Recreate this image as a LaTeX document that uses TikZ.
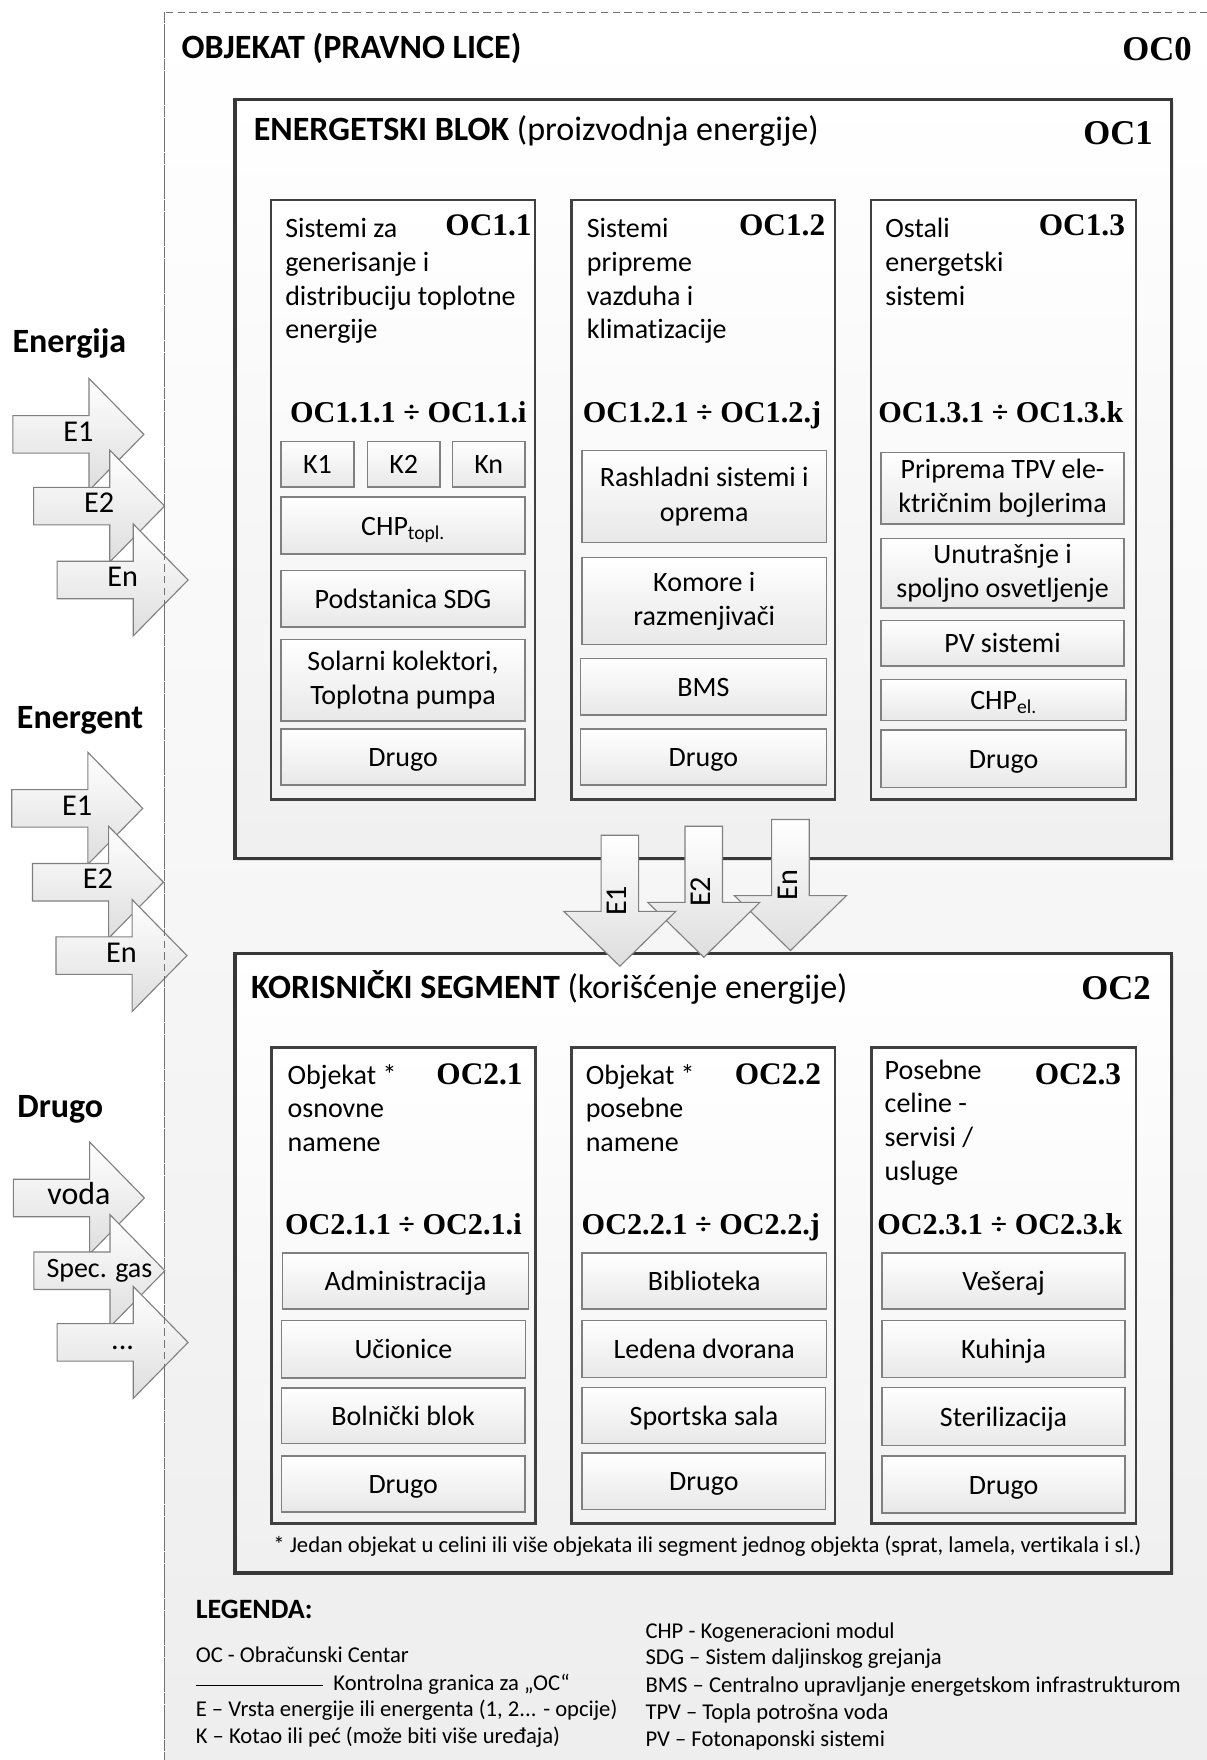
\documentclass[tikz,border=0pt]{standalone}
\usepackage{fontspec}
\setmainfont{Carlito}[Ligatures={NoCommon}]
\newfontfamily\camb{Liberation Serif}
\usetikzlibrary{fit,shadows}
\newcommand\myrarrow[2]{\draw[arr] ({#1-117},{#2-16.75}) -- ({#1-49},{#2-16.75}) -- ({#1-49},{#2-50}) -- (#1,#2) -- ({#1-49},{#2+50}) -- ({#1-49},{#2+16.75}) -- ({#1-117},{#2+16.75}) -- cycle;}
\newcommand\mydarrow[2]{\draw[arr] ({#1-16.75},{#2-117}) -- ({#1+16.75},{#2-117}) -- ({#1+16.75},{#2-49}) -- ({#1+50},{#2-49}) -- (#1,#2) -- ({#1-50},{#2-49}) -- ({#1-16.75},{#2-49}) -- cycle;}
\newcommand\mybox[7]{\node[item,#6, minimum width={#4-#2}, minimum height={#5-#3}] (#1) at ({(#2+#4)/2},{(#3+#5)/2}) {#7};}
\begin{document}
\begin{tikzpicture}[x=1pt,y=-1pt,
  oczero/.style={draw=black!55, dash pattern=on 6.5pt off 4pt, line width=0.9pt, top color=white, bottom color=black!7, inner sep=0pt},
  bigbox/.style={draw=black!78, line width=3pt, top color=white, bottom color=black!6, inner sep=0pt, drop shadow={shadow xshift=2pt, shadow yshift=-2pt, opacity=0.2}},
  colbox/.style={draw=black!75, line width=2.2pt, top color=white, bottom color=black!5, inner sep=0pt},
  item/.style={draw=black!50, line width=1.3pt, top color=white, bottom color=black!9, inner sep=0pt, align=center, font=\fontsize{25}{30.5}\selectfont},
  one/.style={text height=20pt, text depth=3pt},
  two/.style={yshift=-1pt},
  arr/.style={draw=black!50, line width=1pt, top color=white, bottom color=black!13},
  albl/.style={font=\fontsize{27}{32}\selectfont, text height=17pt, text depth=5pt, inner sep=0pt},
  hdr/.style={font=\bfseries\fontsize{30.4}{36}\selectfont, inner sep=0pt},
  ocbig/.style={font=\camb\bfseries\fontsize{31}{36}\selectfont, inner sep=0pt},
  ocmid/.style={font=\camb\bfseries\fontsize{28}{32}\selectfont, inner sep=0pt},
  ocrng/.style={font=\camb\bfseries\fontsize{27}{32}\selectfont, inner sep=0pt},
  desc/.style={font=\fontsize{25}{30}\selectfont, inner sep=0pt},
  leg/.style={font=\fontsize{20.2}{24}\selectfont, inner sep=0pt, anchor=base west}
]
\useasboundingbox (0,0) rectangle (1077.2,1572);

% OC0 region
\node[oczero, fit={(147.3,11) (1100,1620)}] (oc0) {};
\node[hdr, anchor=base west] (t0) at (162,52.5) {OBJEKAT (PRAVNO LICE)};
\node[ocbig, anchor=base east] (l0) at (1064.7,54) {OC0};

% OC1
\node[bigbox, fit={(209.8,88.7) (1046.5,767)}] (oc1) {};
\node[hdr, anchor=base west] (t1) at (226.5,125.5) {ENERGETSKI BLOK {\mdseries (proizvodnja energije)}};
\node[ocbig, anchor=base east] (l1) at (1029.8,129.5) {OC1};

\node[colbox, fit={(242,178.5) (478,714)}] (c11) {};
\node[colbox, fit={(510.5,178.5) (746,714)}] (c12) {};
\node[colbox, fit={(778,178.5) (1014.5,714)}] (c13) {};

\node[desc, anchor=base west] (d11) at (254.6,212.5) {\vtop{\hbox{Sistemi za}\hbox{generisanje i}\hbox{distribuciju toplotne}\hbox{energije}}};
\node[desc, anchor=base west] (d12) at (524,212.5) {\vtop{\hbox{Sistemi}\hbox{pripreme}\hbox{vazduha i}\hbox{klimatizacije}}};
\node[desc, anchor=base west] (d13) at (790.6,212.5) {\vtop{\hbox{Ostali}\hbox{energetski}\hbox{sistemi}}};

\node[ocmid, anchor=base east] (l11) at (475,210.5) {OC1.1};
\node[ocmid, anchor=base east] (l12) at (737.3,210.5) {OC1.2};
\node[ocmid, anchor=base east] (l13) at (1005,210.5) {OC1.3};

\node[ocrng, anchor=base] (r11) at (364.7,377) {OC1.1.1 ÷ OC1.1.i};
\node[ocrng, anchor=base] (r12) at (627,377) {OC1.2.1 ÷ OC1.2.j};
\node[ocrng, anchor=base] (r13) at (894,377) {OC1.3.1 ÷ OC1.3.k};

\mybox{k1}{251}{394.5}{316}{435}{one}{K1}
\mybox{k2}{328}{394.5}{393}{435}{one}{K2}
\mybox{kn}{404}{394.5}{469}{435}{one}{Kn}
\mybox{chpa}{251}{444}{469}{495}{one}{CHP\textsubscript{topl.}}
\mybox{sdg}{251}{509.5}{469}{560}{one}{Podstanica SDG}
\mybox{sol}{251}{570}{469}{643}{two}{Solarni kolektori,\\Toplotna pumpa}
\mybox{dra}{251}{651}{469}{701}{one}{Drugo}

\mybox{ras}{520}{401.5}{738}{483.5}{two}{Rashladni sistemi i\\oprema}
\mybox{kom}{520}{497}{738}{574.5}{two}{Komore i\\razmenjivači}
\mybox{bms}{518.6}{588}{738}{638.5}{one}{BMS}
\mybox{drb}{518.6}{651}{738}{701}{one}{Drugo}

\mybox{tpv}{787}{403}{1004}{467}{two}{Priprema TPV ele-\\ktričnim bojlerima}
\mybox{osv}{787}{480}{1004}{542}{two}{Unutrašnje i\\spoljno osvetljenje}
\mybox{pv}{787}{554}{1004}{595}{one}{PV sistemi}
\mybox{chpb}{787}{607}{1005.7}{643.5}{one}{CHP\textsubscript{el.}}
\mybox{drc}{787}{652}{1005.7}{703.6}{one}{Drugo}

% OC2
\node[bigbox, fit={(209.8,851.8) (1046.5,1404.8)}] (oc2) {};
\node[hdr, anchor=base west] (t2) at (224,891.5) {KORISNIČKI SEGMENT {\mdseries (korišćenje energije)}};
\node[ocbig, anchor=base east] (l2) at (1028,892.5) {OC2};

\node[colbox, fit={(242.3,935.4) (478.3,1360.7)}] (c21) {};
\node[colbox, fit={(510.4,935.4) (746,1360.7)}] (c22) {};
\node[colbox, fit={(778.3,935.4) (1014.7,1360.7)}] (c23) {};

\node[desc, anchor=base west] (d21) at (256.7,968.5) {\vtop{\hbox{Objekat *}\hbox{osnovne}\hbox{namene}}};
\node[desc, anchor=base west] (d22) at (523,968.5) {\vtop{\hbox{Objekat *}\hbox{posebne}\hbox{namene}}};
\node[desc, anchor=base west] (d23) at (790,964) {\vtop{\hbox{Posebne}\hbox{celine -}\hbox{servisi /}\hbox{usluge}}};

\node[ocmid, anchor=base east] (l21) at (467,969) {OC2.1};
\node[ocmid, anchor=base east] (l22) at (733.5,969) {OC2.2};
\node[ocmid, anchor=base east] (l23) at (1001.5,969) {OC2.3};

\node[ocrng, anchor=base] (r21) at (360.3,1103) {OC2.1.1 ÷ OC2.1.i};
\node[ocrng, anchor=base] (r22) at (626,1103) {OC2.2.1 ÷ OC2.2.j};
\node[ocrng, anchor=base] (r23) at (893,1103) {OC2.3.1 ÷ OC2.3.k};

\mybox{adm}{252.5}{1119}{472}{1169}{one}{Administracija}
\mybox{uci}{251.3}{1179.5}{469.4}{1230.6}{one}{Učionice}
\mybox{bol}{251.5}{1239.6}{468.8}{1289.3}{one}{Bolnički blok}
\mybox{drd}{251.5}{1300.6}{468.8}{1350.3}{one}{Drugo}

\mybox{bib}{520}{1119}{738}{1169}{one}{Biblioteka}
\mybox{led}{520}{1179.5}{738}{1230.5}{one}{Ledena dvorana}
\mybox{spo}{520}{1239.5}{737.5}{1289.3}{one}{Sportska sala}
\mybox{dre}{520}{1297.6}{737.5}{1348.2}{one}{Drugo}

\mybox{ves}{787.7}{1119}{1005}{1169}{one}{Vešeraj}
\mybox{kuh}{787.7}{1179.5}{1005}{1230.5}{one}{Kuhinja}
\mybox{ste}{787.7}{1239.5}{1005}{1291}{one}{Sterilizacija}
\mybox{drf}{787.7}{1300.6}{1005}{1351.2}{one}{Drugo}

\node[leg] (fn) at (244,1387) {* Jedan objekat u celini ili više objekata ili segment jednog objekta (sprat, lamela, vertikala i sl.)};

% down arrows
\mydarrow{706}{849}
\node[albl, rotate=90] (dn3) at (706,790.5) {En};
\mydarrow{628.6}{855}
\node[albl, rotate=90] (dn2) at (628.6,796.5) {E2};
\mydarrow{553.6}{863}
\node[albl, rotate=90] (dn1) at (553.6,804.5) {E1};

% left arrows
\node[hdr, anchor=base west] (g1) at (11,314.5) {Energija};
\myrarrow{128.5}{388}
\node[albl] (a11) at (70,388) {E1};
\myrarrow{147}{452}
\node[albl] (a12) at (88.5,452) {E2};
\myrarrow{168}{518}
\node[albl] (a13) at (109.5,518) {En};

\node[hdr, anchor=base west] (g2) at (14.9,651) {Energent};
\myrarrow{127.5}{722}
\node[albl] (a21) at (69,722) {E1};
\myrarrow{146}{788}
\node[albl] (a22) at (87.5,788) {E2};
\myrarrow{167}{853.5}
\node[albl] (a23) at (108.5,853.5) {En};

\node[hdr, anchor=base west] (g3) at (15.3,998) {Drugo};
\myrarrow{129}{1070}
\node[albl, font=\fontsize{28.5}{32}\selectfont] (a31) at (70.5,1070) {voda};
\myrarrow{147.3}{1135}
\node[albl, font=\fontsize{25}{28}\selectfont] (a32) at (88.8,1135) {Spec. gas};
\myrarrow{168}{1199}
\node[albl] (a33) at (109.5,1199) {...};

% dashed border on top
\draw[draw=black!55, dash pattern=on 6.5pt off 4pt, line width=0.9pt] (oc0.north west) -- (oc0.south west);

% legend
\node[anchor=base west, inner sep=0pt, font=\bfseries\fontsize{25}{30}\selectfont] (lg) at (174.7,1445.5) {LEGENDA:};
\node[leg] (lg1) at (174.7,1485) {OC - Obračunski Centar};
\coordinate (ls) at (174.7,1505.4);
\coordinate (le) at (288.7,1505.4);
\draw[line width=0.8pt] (ls) -- (le);
\node[leg] (lg2) at (297.6,1509.5) {Kontrolna granica za „OC“};
\node[leg] (lg3) at (174.7,1533) {E – Vrsta energije ili energenta (1, 2... - opcije)};
\node[leg] (lg4) at (174.7,1557.5) {K – Kotao ili peć (može biti više uređaja)};
\node[leg] (lr1) at (576.4,1463.3) {CHP - Kogeneracioni modul};
\node[leg] (lr2) at (576.4,1487) {SDG – Sistem daljinskog grejanja};
\node[leg] (lr3) at (576.4,1511.8) {BMS – Centralno upravljanje energetskom infrastrukturom};
\node[leg] (lr4) at (576.4,1536.2) {TPV – Topla potrošna voda};
\node[leg] (lr5) at (576.4,1560) {PV – Fotonaponski sistemi};
\end{tikzpicture}
\end{document}
